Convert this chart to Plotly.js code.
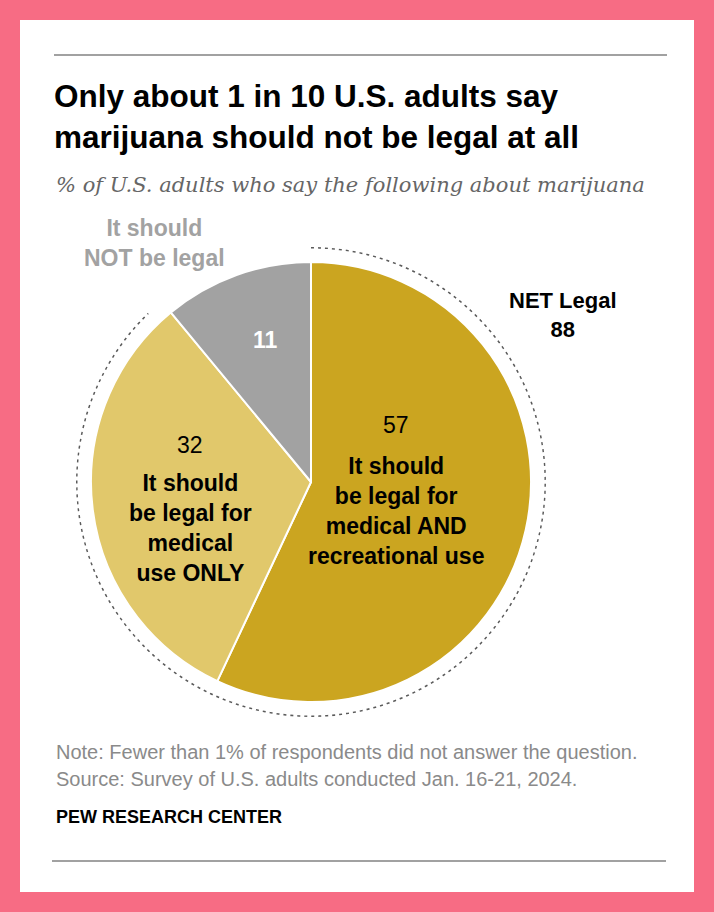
<!DOCTYPE html>
<html>
<head>
<meta charset="utf-8">
<script src="https://cdn.plot.ly/plotly-3.0.1.min.js"></script>
<style>
html,body{margin:0;padding:0;background:#F76C84;}
#chart{width:714px;height:912px;}
</style>
</head>
<body>
<div id="chart"></div>
<script>
// ---- data ----
const categories = [
  "It should be legal for medical AND recreational use",
  "It should be legal for medical use ONLY",
  "It should NOT be legal"
];
const sliceLabels = [
  "It should<br>be legal for<br>medical AND<br>recreational use",
  "It should<br>be legal for<br>medical<br>use ONLY",
  "It should<br>NOT be legal"
];
const values = [57, 32, 11];
const netLegalLabel = "NET Legal";
const netLegal = 88;
const colors = ["#CBA520", "#E1C86B", "#A2A2A2"];

const W = 714, H = 912;
const px = v => v / W;
const py = v => 1 - v / H;

const bold = "Liberation Sans, Arial, sans-serif";
const sans = "Liberation Sans, Arial, sans-serif";

// dotted arc around NET Legal share
const arcTheta = [];
const arcR = [];
for (let a = 0; a <= netLegal * 3.6; a += 1) { arcTheta.push(a); arcR.push(1); }

const traces = [
  {
    type: "pie",
    values: values,
    labels: categories,
    sort: false,
    direction: "clockwise",
    rotation: 0,
    textinfo: "none",
    hoverinfo: "skip",
    marker: { colors: colors, line: { color: "#ffffff", width: 2 } },
    domain: { x: [px(91), px(531)], y: [py(702), py(262)] },
    showlegend: false
  },
  {
    type: "scatterpolar",
    r: arcR,
    theta: arcTheta,
    mode: "lines",
    line: { color: "#5A5A5A", width: 3, dash: "3px,4px" },
    hoverinfo: "skip",
    showlegend: false,
    subplot: "polar"
  }
];

const annotations = [
  // subtitle
  { text: "% of U.S. adults who say the following about marijuana", x: px(54), y: py(185), xanchor: "left", yanchor: "middle",
    font: { family: "DejaVu Serif, Georgia, serif", size: 21, color: "#666666", style: "italic" } },
  // 57 slice
  { text: String(values[0]), x: px(396), y: py(425), font: { family: sans, size: 23, color: "#000" } },
  { text: "<b>" + sliceLabels[0] + "</b>", x: px(396), y: py(511), font: { family: bold, size: 23, color: "#000" } },
  // 32 slice
  { text: String(values[1]), x: px(190), y: py(445), font: { family: sans, size: 23, color: "#000" } },
  { text: "<b>" + sliceLabels[1] + "</b>", x: px(190), y: py(528), font: { family: bold, size: 23, color: "#000" } },
  // 11 slice
  { text: "<b>" + values[2] + "</b>", x: px(265), y: py(340), font: { family: bold, size: 23, color: "#fff" } },
  { text: "<b>" + sliceLabels[2] + "</b>", x: px(154), y: py(243), font: { family: bold, size: 23, color: "#A2A2A2" } },
  // NET legal
  { text: "<b>" + netLegalLabel + "<br>" + netLegal + "</b>", x: px(563), y: py(315), font: { family: bold, size: 22, color: "#000" } },
  // notes
  { text: "Note: Fewer than 1% of respondents did not answer the question.", x: px(54), y: py(752), xanchor: "left",
    font: { family: sans, size: 20, color: "#8A8A8A" } },
  { text: "Source: Survey of U.S. adults conducted Jan. 16-21, 2024.", x: px(54), y: py(779), xanchor: "left",
    font: { family: sans, size: 20, color: "#8A8A8A" } },
  { text: "<b>PEW RESEARCH CENTER</b>", x: px(54), y: py(817), xanchor: "left",
    font: { family: bold, size: 18, color: "#000" } }
].map(a => Object.assign({ xref: "paper", yref: "paper", showarrow: false, xanchor: "center", yanchor: "middle", align: "center" }, a));

const layout = {
  width: W, height: H,
  margin: { l: 0, r: 0, t: 0, b: 0 },
  paper_bgcolor: "#F76C84",
  plot_bgcolor: "rgba(0,0,0,0)",
  title: {
    text: "<b>Only about 1 in 10 U.S. adults say<br>marijuana should not be legal at all</b>",
    x: px(54), xanchor: "left", xref: "paper",
    y: py(107), yanchor: "top", yref: "paper",
    font: { family: bold, size: 31.5, color: "#000" }
  },
  polar: {
    domain: { x: [px(76), px(546)], y: [py(717), py(247)] },
    bgcolor: "rgba(0,0,0,0)",
    radialaxis: { visible: false, range: [0, 1] },
    angularaxis: { visible: false, rotation: 90, direction: "clockwise" }
  },
  shapes: [
    { type: "rect", xref: "paper", yref: "paper", x0: px(20), x1: px(694), y0: py(892), y1: py(20), fillcolor: "#ffffff", line: { width: 0 }, layer: "below" },
    { type: "line", xref: "paper", yref: "paper", x0: px(54), x1: px(667), y0: py(55), y1: py(55), line: { color: "#444", width: 1.2 } },
    { type: "line", xref: "paper", yref: "paper", x0: px(52), x1: px(666), y0: py(861), y1: py(861), line: { color: "#444", width: 1.2 } }
  ],
  annotations: annotations,
  showlegend: false
};

Plotly.newPlot("chart", traces, layout, { staticPlot: true, displayModeBar: false });
</script>
</body>
</html>
